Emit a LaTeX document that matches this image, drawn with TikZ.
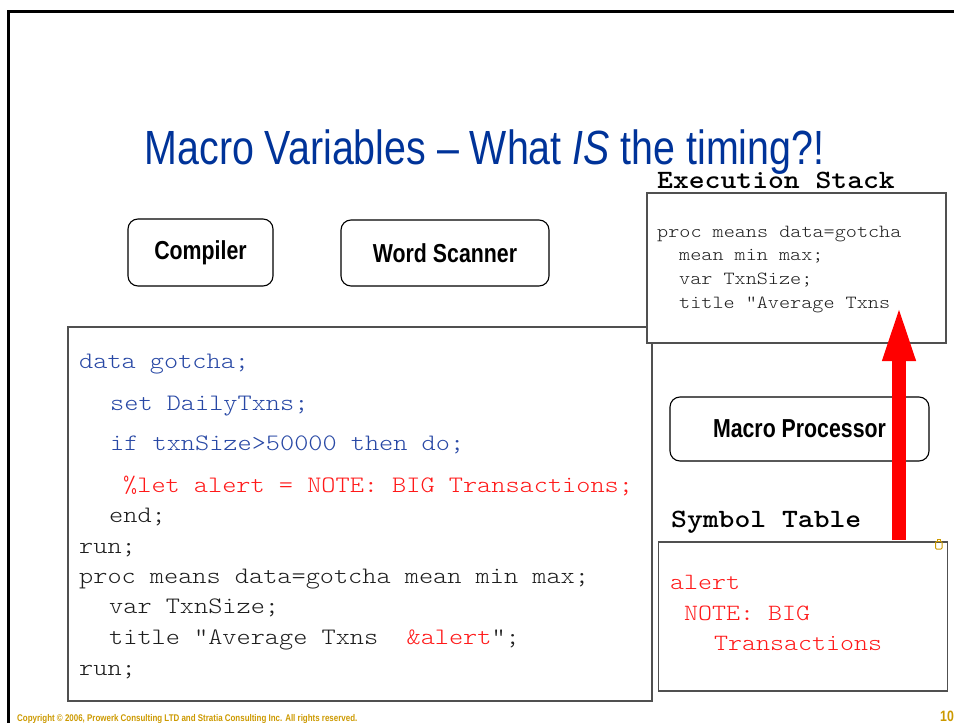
\documentclass[tikz,border=0pt]{standalone}
\usepackage{fontspec}
\setmainfont{Liberation Sans}
\newfontfamily\narrowfont[FakeStretch=0.82]{Liberation Sans}
\newfontfamily\monofont[FakeStretch=1.143]{lmmonolt10-regular.otf}
\newfontfamily\monobold[FakeStretch=1.143]{lmmonolt10-bold.otf}
\usetikzlibrary{arrows.meta}
\definecolor{titleblue}{RGB}{0,51,153}
\definecolor{codeblue}{RGB}{40,72,165}
\definecolor{codered}{RGB}{255,25,25}
\definecolor{codeblack}{RGB}{30,30,30}
\definecolor{boxgray}{RGB}{80,80,80}
\definecolor{gold}{RGB}{204,153,0}
\tikzset{
  rbox/.style={draw=black, line width=1.1pt, rounded corners=10pt, fill=white, inner sep=0pt,
    font=\narrowfont\bfseries\fontsize{26}{28}\selectfont},
  pbox/.style={draw=boxgray, line width=1.5pt, fill=white, inner sep=0pt},
  codeline/.style={anchor=base west, inner sep=0pt, font=\monofont\fontsize{23.6}{26}\selectfont},
  stackline/.style={anchor=base west, inner sep=0pt, text=codeblack, font=\monofont\fontsize{18.5}{20}\selectfont},
  symline/.style={anchor=base west, inner sep=0pt, text=codered, font=\monofont\fontsize{23.3}{26}\selectfont},
  heading/.style={anchor=base west, inner sep=0pt, font=\monobold\fontsize{26.4}{28}\selectfont}
}
\begin{document}
\begin{tikzpicture}[x=1pt,y=-1pt]
\useasboundingbox (0,0) rectangle (954,723);
% slide frame
\draw[line width=3pt] (8,723) -- (8,11) -- (954,11);
% title
\node[anchor=base, inner sep=0pt, text=titleblue, font=\narrowfont\fontsize{48}{50}\selectfont] (title) at (484.5,164) {Macro Variables – What {\itshape IS} the timing?!};
% compiler / word scanner
\node[rbox, minimum width=145pt, minimum height=67pt] (compiler) at (200.5,252.5) {Compiler};
\node[rbox, minimum width=208pt, minimum height=66pt] (scanner) at (445,253) {Word Scanner};
% code box
\node[pbox, minimum width=584pt, minimum height=374pt] (codebox) at (360,514) {};
\node[codeline, text=codeblue] (c1) at (79,368) {data gotcha;};
\node[codeline, text=codeblue] (c2) at (110,410) {set DailyTxns;};
\node[codeline, text=codeblue] (c3) at (110,450) {if txnSize>50000 then do;};
\node[codeline, text=codered] (c4) at (123,492) {\%let alert = NOTE: BIG Transactions;};
\node[codeline, text=codeblack] (c5) at (109,522) {end;};
\node[codeline, text=codeblack] (c6) at (79,553) {run;};
\node[codeline, text=codeblack] (c7) at (79,583) {proc means data=gotcha mean min max;};
\node[codeline, text=codeblack] (c8) at (109,613) {var TxnSize;};
\node[codeline, text=codeblack] (c9) at (109,644) {title "Average Txns\ \ \textcolor{codered}{\&alert}";};
\node[codeline, text=codeblack] (c10) at (79,675) {run;};
% execution stack
\node[heading] (stackhead) at (657,188) {Execution Stack};
\node[pbox, minimum width=299pt, minimum height=150pt] (stack) at (796.5,268) {};
\node[stackline] (s1) at (657,237) {proc means data=gotcha};
\node[stackline] (s2) at (679,260) {mean min max;};
\node[stackline] (s3) at (679,284) {var TxnSize;};
\node[stackline] (s4) at (679,308) {title "Average Txns};
% macro processor
\node[rbox, minimum width=259pt, minimum height=64pt] (macro) at (799.5,429) {Macro Processor};
% symbol table
\node[heading] (symhead) at (671,527) {Symbol Table};
\node[pbox, minimum width=289pt, minimum height=149pt] (symbox) at (803,616.5) {};
\node[symline] (y1) at (670,589) {alert};
\node[symline] (y2) at (684,620) {NOTE: BIG};
\node[symline] (y3) at (714,650) {Transactions};
% small marker
\draw[gold, line width=1pt, rounded corners=1pt] (935.5,549) rectangle (942,541.5);
\draw[gold, line width=1pt] (937,541.5) -- (937,539.5) -- (940.5,539.5) -- (940.5,541.5);
% red arrow
\coordinate (arrowfoot) at (899,540);
\coordinate (arrowtip) at (899,303);
\draw[red, line width=14pt, -{Triangle[length=58pt,width=29pt]}] (arrowfoot) -- (arrowtip);
% footer
\node[anchor=base west, inner sep=0pt, text=gold, font=\narrowfont\bfseries\fontsize{9.7}{10}\selectfont] (copyright) at (17,721) {Copyright © 2006, Prowerk Consulting LTD and Stratia Consulting Inc. All rights reserved.};
\node[anchor=base west, inner sep=0pt, text=gold, font=\narrowfont\bfseries\fontsize{15}{16}\selectfont] (pagenum) at (940,721) {10};
\end{tikzpicture}
\end{document}
